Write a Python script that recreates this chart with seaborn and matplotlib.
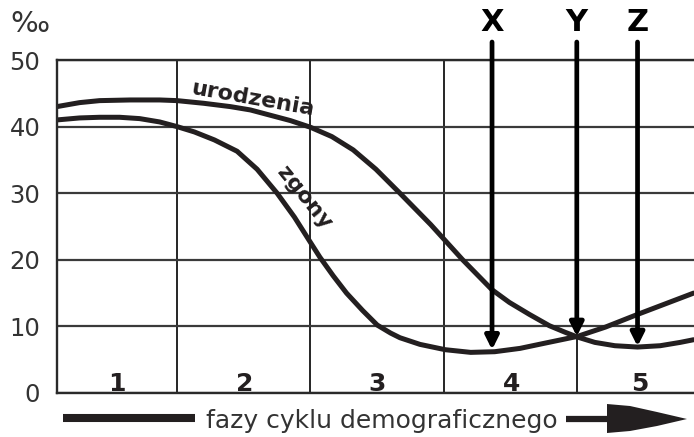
import pandas as pd
import matplotlib.pyplot as plt
import seaborn as sns
from matplotlib.lines import Line2D
from matplotlib.patches import Polygon

# Data (x in phase units, rates in per mille)
birth_x = [0.10, 0.27, 0.42, 0.65, 0.87, 1.00, 1.20, 1.40, 1.55, 1.70, 1.85, 2.00, 2.16, 2.32, 2.49,
           2.67, 2.90, 3.14, 3.36, 3.49, 3.64, 3.79, 3.91, 4.00, 4.13, 4.28, 4.45, 4.62, 4.77, 4.87]
birth_rate = [43.0, 43.6, 43.9, 44.0, 44.0, 43.9, 43.5, 43.0, 42.5, 41.7, 40.9, 39.9, 38.5, 36.5, 33.6,
              30.0, 25.3, 20.0, 15.5, 13.6, 11.8, 10.1, 9.1, 8.4, 7.6, 7.1, 6.9, 7.1, 7.6, 8.0]

death_x = [0.10, 0.27, 0.42, 0.57, 0.72, 0.87, 1.00, 1.13, 1.28, 1.45, 1.60, 1.75, 1.88, 2.00, 2.07, 2.17,
           2.27, 2.39, 2.50, 2.60, 2.67, 2.82, 3.01, 3.20, 3.38, 3.57, 3.76, 4.00, 4.21, 4.45, 4.66, 4.87]
death_rate = [41.0, 41.3, 41.4, 41.4, 41.2, 40.7, 40.0, 39.2, 38.0, 36.3, 33.6, 30.0, 26.4, 22.6, 20.4, 17.6,
              15.0, 12.4, 10.2, 9.0, 8.3, 7.3, 6.5, 6.1, 6.2, 6.7, 7.5, 8.5, 9.9, 11.8, 13.4, 15.0]

phase_labels = ["1", "2", "3", "4", "5"]
phase_label_x = [0.55, 1.51, 2.50, 3.51, 4.47]
phase_bounds = [1, 2, 3, 4]

marker_labels = ["X", "Y", "Z"]
marker_x = [3.36, 3.995, 4.45]
marker_tip = [6.5, 8.5, 7.0]

y_ticks = [0, 10, 20, 30, 40, 50]

births = pd.DataFrame({"faza": birth_x, "wsp": birth_rate})
deaths = pd.DataFrame({"faza": death_x, "wsp": death_rate})

sns.set_theme(style="white")
plt.rcParams["font.family"] = ["DejaVu Sans"]

W, H = 694, 437
fig = plt.figure(figsize=(W / 100, H / 100), dpi=100)
ax = fig.add_axes([57 / W, 44 / H, (W - 57) / W, 333 / H])

ink = "#231f20"
sns.lineplot(data=births, x="faza", y="wsp", ax=ax, color=ink, lw=3.6, solid_joinstyle="round")
sns.lineplot(data=deaths, x="faza", y="wsp", ax=ax, color=ink, lw=3.6, solid_joinstyle="round")

ax.set_xlim(0.101, 4.873)
ax.set_ylim(0, 50)
ax.set_xticks(phase_bounds)
ax.set_xticklabels([])
ax.set_yticks(y_ticks)
ax.set_xlabel("")
ax.set_ylabel("")
ax.tick_params(axis="both", length=0)
ax.tick_params(axis="y", pad=12, labelsize=17.5, labelcolor="#333333")
ax.grid(axis="x", color="black", lw=1.2)
ax.grid(axis="y", color="#3a3a3a", lw=1.6)
ax.set_axisbelow(True)
for side in ["left", "bottom", "top"]:
    ax.spines[side].set_color("#2a2a2a")
    ax.spines[side].set_linewidth(1.7)
ax.spines["right"].set_visible(False)

# phase numbers
for lab, x in zip(phase_labels, phase_label_x):
    ax.text(x, 0.3, lab, ha="center", va="baseline", fontsize=18,
            fontweight="bold", color=ink)

# curve labels
ax.text(1.569, 44.2, "urodzenia", rotation=-10, rotation_mode="anchor",
        ha="center", va="center", fontsize=16, fontweight="bold", color=ink)
ax.text(1.95, 29.3, "zgony", rotation=-51, rotation_mode="anchor",
        ha="center", va="center", fontsize=16, fontweight="bold", color=ink)

# X, Y, Z arrows
for lab, x, tip in zip(marker_labels, marker_x, marker_tip):
    ax.annotate("", xy=(x, tip), xytext=(x, 52.7), annotation_clip=False,
                arrowprops=dict(arrowstyle="-|>,head_width=0.4,head_length=0.8",
                                mutation_scale=10, lw=3.4, color="black",
                                shrinkA=0, shrinkB=0))
    ax.text(x, 55.7, lab, ha="center", va="center", fontsize=22,
            fontweight="bold", color="black", clip_on=False)

# per mille sign
fig.text(30 / W, 1 - 24 / H, "‰", ha="center", va="center", fontsize=21, color="#333333")

# bottom arrow with caption
def fp(px, py):
    return px / W, 1 - py / H

fig.add_artist(Line2D([63 / W, 195 / W], [1 - 418 / H] * 2, color=ink, lw=5.8,
                      solid_capstyle="butt"))
fig.text(382 / W, 1 - 421 / H, "fazy cyklu demograficznego", ha="center", va="center",
         fontsize=18, color="#333333")
fig.add_artist(Line2D([566 / W, 612 / W], [1 - 419 / H] * 2, color=ink, lw=4.5,
                      solid_capstyle="butt"))
head = [fp(607, 404), fp(630, 406), fp(657, 412), fp(687, 419),
        fp(657, 426), fp(630, 431), fp(607, 433)]
fig.add_artist(Polygon(head, closed=True, transform=fig.transFigure, color=ink, lw=0))

fig.savefig("out.png", dpi=100)
